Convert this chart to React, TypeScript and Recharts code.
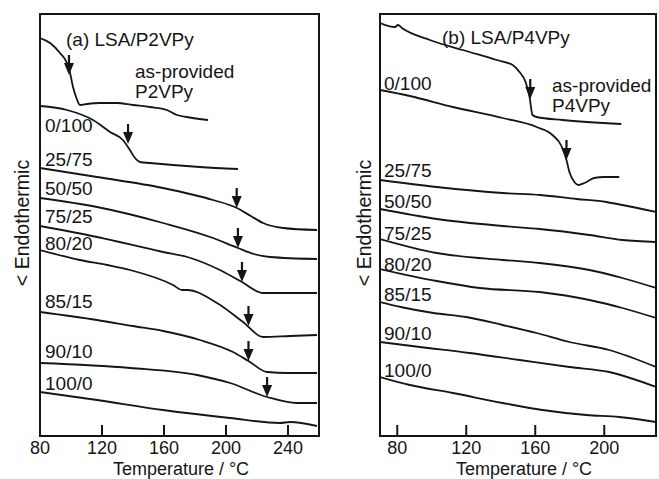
import React from 'react';
import { ComposedChart, Line, Scatter, XAxis, YAxis, ReferenceArea } from 'recharts';

const FONT = '"Liberation Sans", Arial, Helvetica, sans-serif';
const INK = '#151515';

type Pt = [number, number];
const toData = (pts: Pt[]) => pts.map(([t, v]) => ({ t, v }));

// ---------- Panel (a) LSA/P2VPy : [temperature °C, heat-flow (arb.)] ----------
const aAsProvided: Pt[] = [[80,398],[86.5,393],[92.9,383],[97.4,373],[99.4,363],[101.3,349],[103.5,338],[105.8,331],[110.3,332],[118.7,333],[129.7,333],[140,331],[151,329],[161.9,326],[168.4,321],[174.8,319],[188.4,316]];
const a0_100: Pt[] = [[80,330],[97.4,326],[114.2,316],[125.2,304],[133.5,296],[138,286],[141.3,278],[144.5,274],[151,273],[183.2,269],[207.7,267]];
const a25_75: Pt[] = [[80,268],[116.8,259],[159.4,248],[191.6,236],[207.1,228],[216,220],[223.9,213],[236.8,208],[258.7,206]];
const a50_50: Pt[] = [[80,238],[116.8,229],[159.4,213],[191.6,198],[207.7,188],[218,182],[228.4,179],[258.7,177]];
const a75_25: Pt[] = [[80,210],[116.8,199],[159.4,184],[175,179],[196.1,166],[210.3,154],[223.9,143],[240,143],[258.7,143]];
const a80_20: Pt[] = [[80,186],[105.8,176],[123.2,171],[138.1,166],[165.8,151],[171.6,146],[174.8,146],[194.2,133],[211,114],[223.9,99],[241.3,100],[258.7,101]];
const a85_15: Pt[] = [[80,124],[116.8,116],[139.7,110],[159.4,105],[183.2,96],[204.5,84],[214.5,75],[226.5,64],[240,63],[258.7,63]];
const a90_10: Pt[] = [[80,73],[138.1,68],[181.3,61],[202.6,53],[226.5,39],[245.8,33],[258.7,33]];
const a100_0: Pt[] = [[80,44],[116.8,36],[159.4,26],[202.6,18],[234.8,13],[241.3,14],[258.7,10]];
const aArrows: Pt[] = [[98.7,361],[136.8,292],[206.9,228],[207.7,188],[210.3,154],[214.5,110],[214.5,75],[226.5,39]];
const aTicks = [80, 120, 160, 200, 240];

// ---------- Panel (b) LSA/P4VPy ----------
const bAsProvided: Pt[] = [[70,413],[78.7,409],[80.4,411],[82.7,408],[98.9,396],[118,386],[137.6,376],[146.9,371],[150.9,364],[154.4,354],[156.7,339],[158.4,321],[160.8,319],[175.8,316],[209.9,312]];
const b0_100: Pt[] = [[70,346],[87.3,340],[112.2,329],[141.1,318],[160.8,309],[170,301],[175.2,290],[178.1,276],[179.8,264],[182.7,254],[185,251],[188.5,253],[194.2,258],[200,259],[208.7,259]];
const b25_75: Pt[] = [[70,256],[102.9,249],[141.1,243],[163,241],[184,237],[201.2,234],[210.5,231],[230,224]];
const b50_50: Pt[] = [[70,227],[102.9,217],[141.1,210],[162.5,207],[191.4,201],[210.5,196],[230,194]];
const b75_25: Pt[] = [[70,197],[102.9,183],[141.1,176],[162.5,173],[191.4,166],[210.5,158],[230,148]];
const b80_20: Pt[] = [[70,167],[102.9,155],[127.8,148],[162.5,144],[191.4,136],[210.5,128],[230,118]];
const b85_15: Pt[] = [[70,134],[82,129],[101,123],[120,119],[141.1,111],[160.8,103],[179.8,94],[202.9,86],[230,69]];
const b90_10: Pt[] = [[70,94],[93.1,89],[122,83],[150.9,76],[179.8,69],[202.9,64],[230,49]];
const b100_0: Pt[] = [[70,59],[87.3,51],[112.2,43],[141.1,33],[164.2,26],[189.6,21],[208.7,19],[230,14]];
const bArrows: Pt[] = [[157.1,337],[178.1,276]];
const bTicks = [80, 120, 160, 200];

const seriesA = [aAsProvided, a0_100, a25_75, a50_50, a75_25, a80_20, a85_15, a90_10, a100_0];
const seriesB = [bAsProvided, b0_100, b25_75, b50_50, b75_25, b80_20, b85_15, b90_10, b100_0];

const BottomTick = (props: any) => {
  const { x, y, payload } = props;
  return (
    <g>
      <line x1={x} y1={y} x2={x} y2={y - 11} stroke={INK} strokeWidth={2} />
      <text x={x} y={y + 18} textAnchor="middle" fontSize={18} fontFamily={FONT} fill={INK}>
        {payload.value}
      </text>
    </g>
  );
};

const TopTick = (props: any) => {
  const { x, y } = props;
  return <line x1={x} y1={y} x2={x} y2={y + 11} stroke={INK} strokeWidth={2} />;
};

const Arrow = (props: any) => {
  const { cx, cy } = props;
  if (cx == null || cy == null) return null;
  return (
    <g>
      <line x1={cx} y1={cy - 20} x2={cx} y2={cy - 9} stroke={INK} strokeWidth={2.2} />
      <path d={`M${cx - 5},${cy - 12} L${cx + 5},${cy - 12} L${cx},${cy} Z`} fill={INK} />
    </g>
  );
};

const Panel = ({ series, arrows, ticks, domain, margin, width }: any) => (
  <ComposedChart width={width} height={479} margin={margin}>
    <XAxis
      xAxisId={0}
      dataKey="t"
      type="number"
      domain={domain}
      ticks={ticks}
      allowDataOverflow
      height={43}
      axisLine={false}
      tickLine={false}
      tickSize={0}
      tickMargin={0}
      tick={<BottomTick />}
      interval={0}
    />
    <XAxis
      xAxisId="top"
      orientation="top"
      dataKey="t"
      type="number"
      domain={domain}
      ticks={ticks}
      allowDataOverflow
      height={0}
      axisLine={false}
      tickLine={false}
      tickSize={0}
      tickMargin={0}
      tick={<TopTick />}
      interval={0}
    />
    <YAxis dataKey="v" type="number" domain={[0, 422]} hide allowDataOverflow />
    <ReferenceArea x1={domain[0]} x2={domain[1]} y1={0} y2={422} fill="none" stroke={INK} strokeWidth={2} ifOverflow="visible" />
    {series.map((s: Pt[], i: number) => (
      <Line
        key={i}
        data={toData(s)}
        dataKey="v"
        type="monotone"
        stroke={INK}
        strokeWidth={1.8}
        dot={false}
        activeDot={false}
        isAnimationActive={false}
      />
    ))}
    <Scatter data={toData(arrows)} dataKey="v" shape={<Arrow />} isAnimationActive={false} />
  </ComposedChart>
);

const Txt = ({ x, y, children, anchor = 'start', size = 19 }: any) => (
  <text x={x} y={y} textAnchor={anchor} fontSize={size} fontFamily={FONT} fill={INK}>
    {children}
  </text>
);

export default function App() {
  return (
    <div style={{ position: 'absolute', left: 0, top: 0, width: 659, height: 479, background: '#fff', overflow: 'hidden' }}>
      <div style={{ position: 'absolute', left: 0, top: 0 }}>
        <Panel series={seriesA} arrows={aArrows} ticks={aTicks} domain={[80, 260]} width={330} margin={{ top: 14, right: 11, bottom: 0, left: 40 }} />
      </div>
      <div style={{ position: 'absolute', left: 330, top: 0 }}>
        <Panel series={seriesB} arrows={bArrows} ticks={bTicks} domain={[70, 230]} width={329} margin={{ top: 14, right: 3, bottom: 0, left: 50 }} />
      </div>
      <svg width={659} height={479} style={{ position: 'absolute', left: 0, top: 0, pointerEvents: 'none' }}>
        {/* panel (a) */}
        <Txt x={66} y={46}>(a) LSA/P2VPy</Txt>
        <Txt x={135} y={78}>as-provided</Txt>
        <Txt x={135} y={98}>P2VPy</Txt>
        <Txt x={45} y={132}>0/100</Txt>
        <Txt x={45} y={166}>25/75</Txt>
        <Txt x={45} y={195}>50/50</Txt>
        <Txt x={45} y={223}>75/25</Txt>
        <Txt x={45} y={250}>80/20</Txt>
        <Txt x={45} y={308}>85/15</Txt>
        <Txt x={45} y={358}>90/10</Txt>
        <Txt x={45} y={390}>100/0</Txt>
        <Txt x={181} y={474.5} anchor="middle" size={18}>Temperature / °C</Txt>
        <text transform="translate(29,223) rotate(-90)" textAnchor="middle" fontSize={19.5} fontFamily={FONT} fill={INK}>{'< Endothermic'}</text>
        {/* panel (b) */}
        <Txt x={442} y={44}>(b) LSA/P4VPy</Txt>
        <Txt x={552} y={92}>as-provided</Txt>
        <Txt x={552} y={112}>P4VPy</Txt>
        <Txt x={384} y={90}>0/100</Txt>
        <Txt x={384} y={177}>25/75</Txt>
        <Txt x={384} y={208}>50/50</Txt>
        <Txt x={384} y={240}>75/25</Txt>
        <Txt x={384} y={271}>80/20</Txt>
        <Txt x={384} y={301}>85/15</Txt>
        <Txt x={384} y={340}>90/10</Txt>
        <Txt x={384} y={377}>100/0</Txt>
        <Txt x={524} y={474.5} anchor="middle" size={18}>Temperature / °C</Txt>
        <text transform="translate(371,223) rotate(-90)" textAnchor="middle" fontSize={19.5} fontFamily={FONT} fill={INK}>{'< Endothermic'}</text>
      </svg>
    </div>
  );
}
